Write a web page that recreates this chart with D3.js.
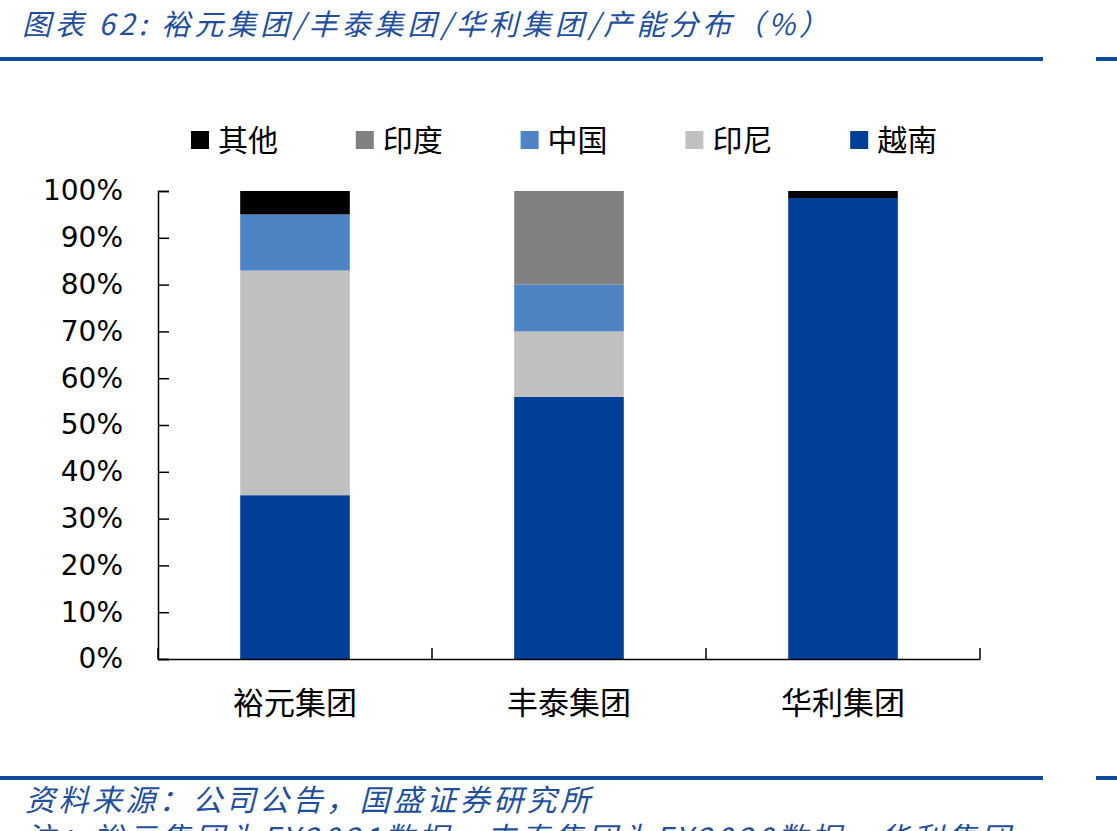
<!DOCTYPE html>
<html>
<head>
<meta charset="utf-8">
<script src="https://cdn.jsdelivr.net/npm/d3@7"></script>
<style>
  body { margin: 0; background: #fff; }
  svg { display: block; }
  .cjk { font-family: "Noto Sans CJK SC", sans-serif; }
</style>
</head>
<body>
<svg id="chart" width="1117" height="831"></svg>
<script>
// 分类和数据（%）
const groups = ["裕元集团", "丰泰集团", "华利集团"];
const seriesNames = ["越南", "印尼", "中国", "印度", "其他"];
const vietnam = [35, 56, 98.5];
const indonesia = [48, 14, 0];
const china = [12, 10, 0];
const india = [0, 20, 0];
const other = [5, 0, 1.5];
const yTicks = [0, 10, 20, 30, 40, 50, 60, 70, 80, 90, 100];
const legendOrder = ["其他", "印度", "中国", "印尼", "越南"];

const colors = {
    "越南": "#003f97",
    "印尼": "#c0c0c0",
    "中国": "#4f84c4",
    "印度": "#808080",
    "其他": "#000000"
};

const svg = d3.select("#chart");
const blue = "#0f4a9a";

// 标题
svg.append("text")
    .attr("class", "cjk")
    .attr("x", 22)
    .attr("y", 35)
    .attr("textLength", 806)
    .attr("lengthAdjust", "spacing")
    .style("font-size", "29px")
    .style("font-style", "italic")
    .attr("fill", "#1f4f9d")
    .text("图表 62:  裕元集团/丰泰集团/华利集团/产能分布（%）");

// 顶部和底部的蓝线
[[57, 0, 1043], [57, 1096, 1117], [776, 0, 1043], [776, 1096, 1117]].forEach(function(l) {
    svg.append("rect")
        .attr("x", l[1])
        .attr("y", l[0])
        .attr("width", l[2] - l[1])
        .attr("height", 4)
        .attr("fill", blue);
});

// 比例尺
const x = d3.scaleBand()
    .domain(groups)
    .range([158, 980])
    .paddingInner(0.6)
    .paddingOuter(0.3);

const y = d3.scaleLinear()
    .domain([0, 100])
    .range([659, 191]);

const table = groups.map((g, i) => ({
    group: g,
    "越南": vietnam[i],
    "印尼": indonesia[i],
    "中国": china[i],
    "印度": india[i],
    "其他": other[i]
}));

const stacked = d3.stack().keys(seriesNames)(table);

// 柱子
svg.append("g")
    .selectAll("g")
    .data(stacked)
    .enter()
    .append("g")
    .attr("fill", d => colors[d.key])
    .selectAll("rect")
    .data(d => d.filter(p => p[1] - p[0] > 0))
    .enter()
    .append("rect")
    .attr("x", d => x(d.data.group))
    .attr("y", d => y(d[1]))
    .attr("width", x.bandwidth())
    .attr("height", d => y(d[0]) - y(d[1]));

// y轴
const yAxis = svg.append("g")
    .attr("transform", "translate(158,0)")
    .call(d3.axisLeft(y)
        .tickValues(yTicks)
        .tickSize(-11)
        .tickPadding(35)
        .tickFormat(d => d + "%"));
yAxis.select(".domain").attr("stroke", "#000").attr("stroke-width", 1.5);
yAxis.selectAll(".tick line").attr("stroke", "#000").attr("stroke-width", 1.5);
yAxis.selectAll("text")
    .style("font-family", "'DejaVu Sans', sans-serif")
    .style("font-size", "28px")
    .attr("fill", "#000");

// x轴
const xAxis = svg.append("g")
    .attr("transform", "translate(0,659)")
    .call(d3.axisBottom(x).tickSize(0).tickPadding(33));
xAxis.select(".domain").attr("stroke", "#000").attr("stroke-width", 1.5);
xAxis.selectAll("text")
    .attr("class", "cjk")
    .style("font-size", "31px")
    .attr("fill", "#000");

// 分类之间的刻度
const bounds = d3.range(groups.length + 1).map(i => x.range()[0] + i * x.step());
xAxis.selectAll(".sep")
    .data(bounds)
    .enter()
    .append("line")
    .attr("class", "sep")
    .attr("x1", d => d)
    .attr("x2", d => d)
    .attr("y1", 0)
    .attr("y2", -11)
    .attr("stroke", "#000")
    .attr("stroke-width", 1.5);

// 图例
const legend = svg.append("g")
    .selectAll("g")
    .data(legendOrder)
    .enter()
    .append("g")
    .attr("transform", (d, i) => `translate(${191 + i * 164.8},131)`);

legend.append("rect")
    .attr("width", 18)
    .attr("height", 18)
    .attr("fill", d => colors[d]);

legend.append("text")
    .attr("class", "cjk")
    .attr("x", 27)
    .attr("y", 20)
    .style("font-size", "30px")
    .attr("fill", "#000")
    .text(d => d);

// 资料来源
svg.append("text")
    .attr("class", "cjk")
    .attr("x", 25)
    .attr("y", 811)
    .attr("textLength", 565)
    .attr("lengthAdjust", "spacing")
    .style("font-size", "30px")
    .style("font-style", "italic")
    .attr("fill", "#1f4f9d")
    .text("资料来源：公司公告，国盛证券研究所");

svg.append("text")
    .attr("class", "cjk")
    .attr("x", 25)
    .attr("y", 849)
    .attr("textLength", 985)
    .attr("lengthAdjust", "spacing")
    .style("font-size", "30px")
    .style("font-style", "italic")
    .attr("fill", "#1f4f9d")
    .text("注：裕元集团为FY2021数据，丰泰集团为FY2020数据，华利集团");
</script>
</body>
</html>
